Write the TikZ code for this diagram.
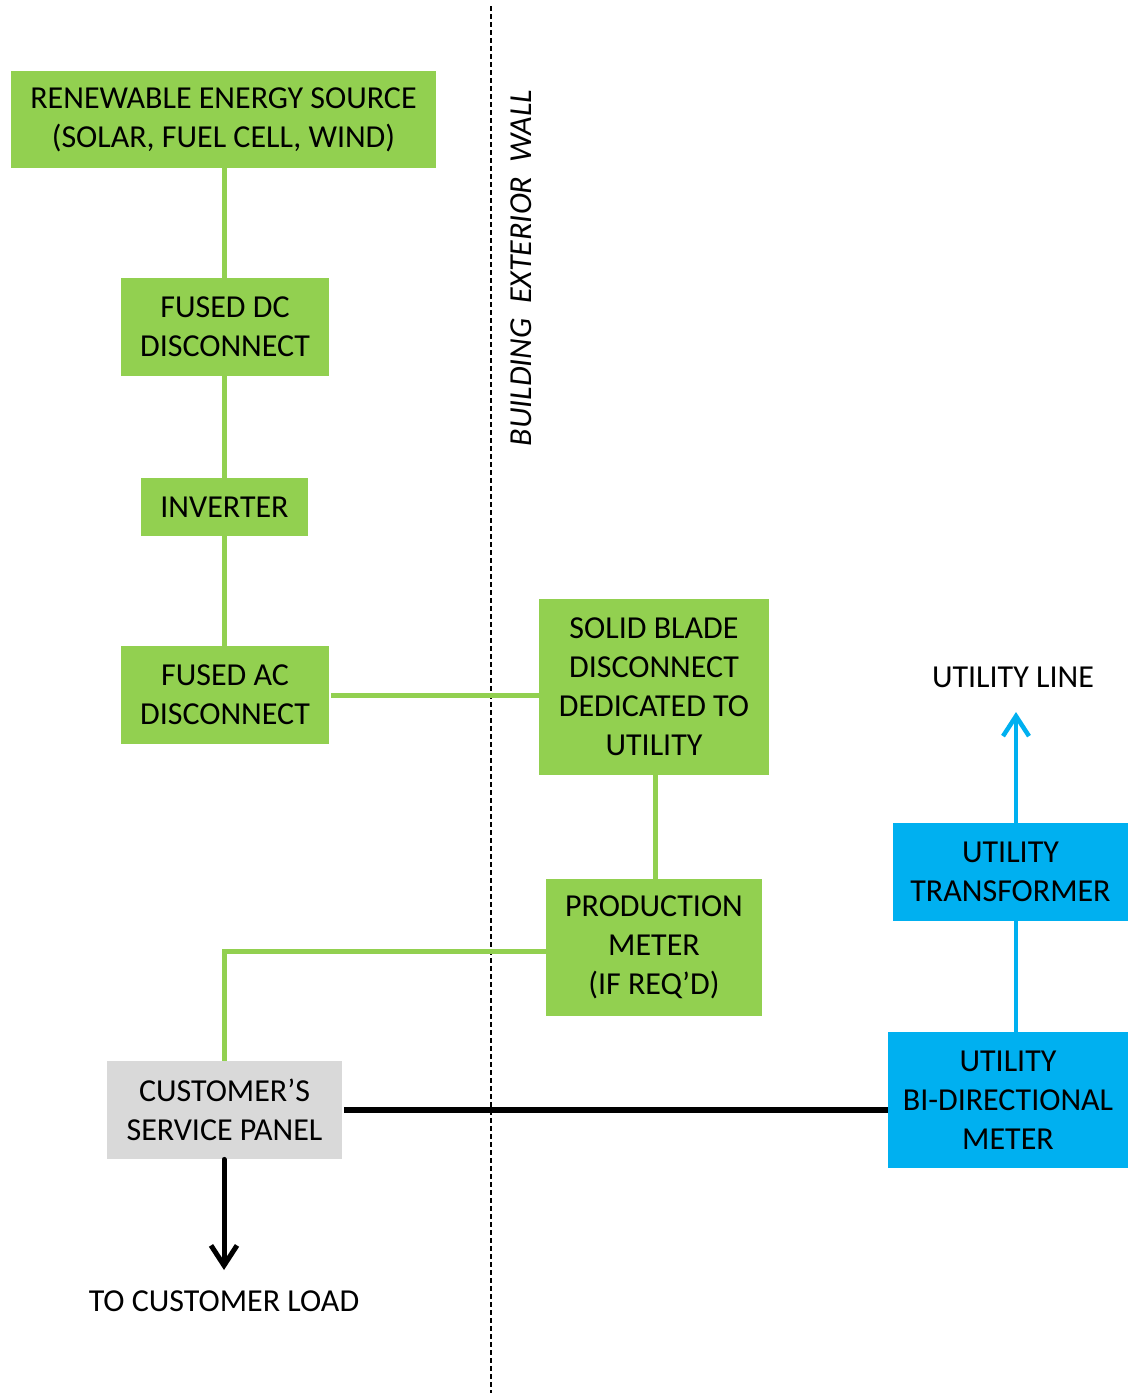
\documentclass[tikz,border=0pt]{standalone}
\usepackage{fontspec}
\setmainfont{Carlito}
\usetikzlibrary{arrows.meta}
\definecolor{solargreen}{HTML}{92D050}
\definecolor{utilblue}{HTML}{00B0F0}
\definecolor{panelgray}{HTML}{D9D9D9}
\tikzset{
  box/.style={inner sep=0pt, align=center, font=\fontsize{16}{19.5}\selectfont},
  greenbox/.style={box, fill=solargreen},
  bluebox/.style={box, fill=utilblue},
  greenline/.style={draw=solargreen, line width=2.5pt},
  blueline/.style={draw=utilblue, line width=2.25pt},
  label/.style={font=\fontsize{16}{19.5}\selectfont}
}
\begin{document}
\begin{tikzpicture}[x=0.5pt,y=-0.5pt]
\useasboundingbox (0,0) rectangle (1128,1393);
\draw[dash pattern=on 2.5pt off 1.5pt, line width=1pt] (491,6) -- (491,1393);
\node[label, rotate=90, font=\fontsize{16}{19.5}\selectfont\itshape] (wall) at (521,268) {BUILDING\ \ EXTERIOR\ \ WALL};
\node[greenbox, minimum width=212.5pt, minimum height=48.5pt] (source) at (223.5,119.5) {RENEWABLE ENERGY SOURCE\\(SOLAR, FUEL CELL, WIND)};
\node[greenbox, minimum width=104pt, minimum height=49pt] (dcdisc) at (225,327) {FUSED DC\\DISCONNECT};
\node[greenbox, minimum width=83.5pt, minimum height=29pt] (inverter) at (224.5,507) {INVERTER};
\node[greenbox, minimum width=104pt, minimum height=49pt] (acdisc) at (225,695) {FUSED AC\\DISCONNECT};
\node[greenbox, minimum width=115pt, minimum height=88pt] (blade) at (654,687) {SOLID BLADE\\DISCONNECT\\DEDICATED TO\\UTILITY};
\node[greenbox, minimum width=108pt, minimum height=68.5pt] (prodmeter) at (654,947.5) {PRODUCTION\\METER\\(IF REQ’D)};
\node[box, fill=panelgray, minimum width=117.5pt, minimum height=49pt] (panel) at (224.5,1110) {CUSTOMER’S\\SERVICE PANEL};
\node[bluebox, minimum width=117.5pt, minimum height=49pt] (xfmr) at (1010.5,872) {UTILITY\\TRANSFORMER};
\node[bluebox, minimum width=120pt, minimum height=68pt] (bimeter) at (1008,1100) {UTILITY\\BI-DIRECTIONAL\\METER};
\node[label] (utilline) at (1013,677) {UTILITY LINE};
\node[label] (custload) at (224,1301) {TO CUSTOMER LOAD};
\coordinate (uline) at (1016,712);
\coordinate (load) at (224,1270);
\coordinate (prodtap) at (546,951);
\draw[greenline] (source.south -| 224,0) -- (dcdisc.north -| 224,0);
\draw[greenline] (dcdisc.south -| 224,0) -- (inverter.north -| 224,0);
\draw[greenline] (inverter.south -| 224,0) -- (acdisc.north -| 224,0);
\draw[greenline] ([xshift=1pt]acdisc.east) -- (acdisc.east -| blade.west);
\draw[greenline] (blade.south -| 655,0) -- (prodmeter.north -| 655,0);
\draw[greenline, line join=miter] (panel.north -| 224,0) |- (prodtap);
\draw[line width=3pt] ([xshift=1pt]panel.east) -- (panel.east -| bimeter.west);
\draw[line width=2.5pt, -{Straight Barb[length=10pt, width=13pt]}, line cap=round] (panel.south -| load) -- (load);
\draw[blueline] (bimeter.north -| uline) -- (xfmr.south -| uline);
\draw[blueline, -{Straight Barb[length=10pt, width=13pt]}, line cap=round] (xfmr.north -| uline) -- (uline);
\end{tikzpicture}
\end{document}
